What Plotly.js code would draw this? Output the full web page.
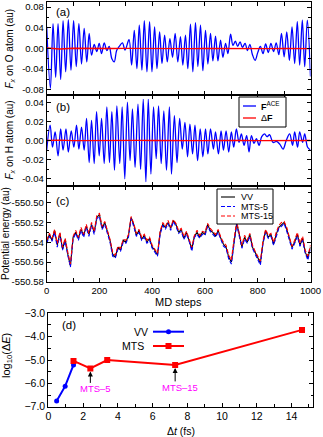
<!DOCTYPE html>
<html>
<head>
<meta charset="utf-8">
<script src="https://cdn.plot.ly/plotly-3.0.1.min.js"></script>
<style>
  html, body { margin: 0; padding: 0; background: #fff; }
  #plot { width: 323px; height: 437px; }
</style>
</head>
<body>
<div id="plot"></div>
<script>
// (a) F_x on O atom: extrema (MD step, value in au)
const aStep = [0,14,24,34,43,53,62,72,82,92,102,112,122,132,142,152,161,170,180,190,
  199,208,218,228,237,247,256,265,275,287,297,312,322,332,342,351,361,370,380,390,
  399,409,418,428,437,447,457,467,477,487,497,507,516,526,535,545,554,564,573,583,
  592,602,611,621,630,640,649,659,668,678,687,697,706,715,724,733,742,752,761,770,
  780,790,800,810,820,830,840,850,860,870,880,890,900,910,920,930,940,950,959,969,
  978,988,1000];
const aFx = [0.042,-0.077,0.048,-0.056,0.048,-0.060,0.054,-0.045,0.056,-0.042,
  0.054,-0.035,0.048,-0.030,0.039,-0.026,0.029,-0.013,0.008,-0.006,
  0.010,-0.010,0.011,-0.004,0.004,-0.020,-0.026,-0.004,0.004,0.011,
  -0.003,0.017,-0.032,0.035,-0.039,0.045,-0.042,0.054,-0.045,0.052,
  -0.045,0.042,-0.039,0.032,-0.029,0.026,-0.026,0.019,-0.017,0.029,
  -0.026,0.023,-0.032,0.026,-0.039,0.047,-0.045,0.050,-0.035,0.045,
  -0.043,0.035,-0.030,0.029,-0.024,0.024,-0.024,0.016,-0.017,0.010,
  -0.010,0.028,0.006,0.014,0.004,0.013,0.002,0.010,-0.004,0.008,
  -0.012,-0.023,-0.008,0.004,-0.010,0.009,-0.008,0.010,-0.006,0.011,
  -0.012,0.029,-0.016,0.032,-0.023,0.042,-0.029,0.052,-0.032,0.055,
  -0.035,0.055,-0.054];

// (b) F_x on H atom
const bStep = [0,13,22,32,43,53,62,73,82,93,103,113,122,132,142,151,161,170,180,189,
  199,208,218,228,238,247,257,266,277,286,296,306,316,325,335,346,356,366,376,385,
  395,405,415,424,434,444,454,465,473,484,494,504,514,524,534,543,553,562,572,582,
  592,602,611,621,632,640,651,661,670,680,690,700,709,719,729,738,748,758,767,776,
  786,795,805,815,826,835,845,858,871,884,896,908,921,932,940,951,959,970,978,989,
  1000];
const bFx = [-0.010,0.016,-0.007,0.009,-0.016,0.012,-0.010,0.012,-0.012,0.010,
  -0.007,0.016,-0.009,0.014,-0.010,0.023,-0.023,0.021,-0.024,0.030,
  -0.016,0.023,-0.024,0.035,-0.023,0.030,-0.031,0.036,-0.024,0.035,
  -0.040,0.040,-0.021,0.033,-0.028,0.038,-0.030,0.043,-0.043,0.043,
  -0.035,0.035,-0.019,0.036,-0.024,0.031,-0.031,0.035,-0.035,0.026,
  -0.023,0.023,-0.009,0.019,-0.017,0.017,-0.014,0.016,-0.021,0.012,
  -0.017,0.012,-0.014,0.012,-0.009,0.009,-0.014,0.010,-0.010,0.010,
  -0.012,0.009,-0.007,0.012,-0.002,0.007,-0.005,0.005,-0.012,0.005,
  -0.003,0.002,-0.005,0.004,0.007,0.004,0.006,-0.002,-0.001,-0.004,
  -0.009,0.000,0.007,-0.005,0.009,-0.007,0.009,-0.002,0.007,-0.007,
  -0.010];

// delta F (red, near zero)
const dfStep = [0,50,100,150,200,250,300,350,400,450,500,550,600,650,700,750,800,850,900,950,1000];
const aDF = [0.001,-0.001,0.0005,0,-0.0005,0,0.0003,0,-0.0003,0.0004,0,-0.0004,0.0003,0,-0.0003,0,0.0002,-0.0002,0.0003,0,-0.0004];
const bDF = [0,0.0003,-0.0002,0,0.0002,-0.0003,0,0.0002,0,-0.0002,0.0003,0,-0.0002,0,0.0002,0,-0.0002,0,0.0002,-0.0001,0];

// (c) potential energy (au)
const cStep = [0,10,20,30,40,50,60,70,80,90,100,110,120,130,140,150,160,170,180,190,
  200,210,220,230,240,250,260,270,280,290,300,310,320,330,340,350,360,370,380,390,
  400,410,420,430,440,450,460,470,480,490,500,510,520,530,540,550,560,570,580,590,
  600,610,620,630,640,650,660,670,680,690,700,710,720,730,740,750,760,770,780,790,
  800,810,820,830,840,850,860,870,880,890,900,910,920,930,940,950,960,970,980,990,1000];
const cVV = [-550.540,-550.532,-550.538,-550.528,-550.543,-550.531,-550.547,-550.537,-550.552,-550.564,
  -550.535,-550.530,-550.536,-550.527,-550.533,-550.524,-550.532,-550.522,-550.530,-550.515,
  -550.512,-550.526,-550.520,-550.530,-550.538,-550.552,-550.555,-550.545,-550.548,-550.538,
  -550.540,-550.533,-550.515,-550.522,-550.533,-550.528,-550.537,-550.533,-550.540,-550.536,
  -550.545,-550.548,-550.553,-550.530,-550.522,-550.525,-550.520,-550.526,-550.518,-550.522,
  -550.530,-550.527,-550.536,-550.530,-550.538,-550.547,-550.534,-550.530,-550.535,-550.530,
  -550.532,-550.522,-550.528,-550.530,-550.534,-550.528,-550.536,-550.542,-550.545,-550.555,
  -550.560,-550.538,-550.521,-550.532,-550.545,-550.535,-550.540,-550.532,-550.545,-550.550,
  -550.556,-550.561,-550.540,-550.528,-550.535,-550.532,-550.542,-550.532,-550.525,-550.522,
  -550.520,-550.527,-550.537,-550.545,-550.540,-550.532,-550.543,-550.536,-550.550,-550.556,
  -550.545];
const cMTS5 = [-550.541,-550.534,-550.539,-550.530,-550.545,-550.532,-550.548,-550.539,-550.553,-550.565,
  -550.537,-550.531,-550.538,-550.528,-550.535,-550.525,-550.534,-550.523,-550.532,-550.516,
  -550.514,-550.527,-550.522,-550.531,-550.540,-550.554,-550.556,-550.547,-550.549,-550.540,
  -550.541,-550.535,-550.516,-550.524,-550.534,-550.530,-550.538,-550.535,-550.541,-550.538,
  -550.546,-550.550,-550.554,-550.532,-550.523,-550.527,-550.521,-550.528,-550.519,-550.524,
  -550.531,-550.529,-550.537,-550.532,-550.539,-550.549,-550.535,-550.532,-550.536,-550.532,
  -550.533,-550.524,-550.529,-550.532,-550.535,-550.530,-550.537,-550.544,-550.546,-550.557,
  -550.562,-550.540,-550.522,-550.534,-550.546,-550.537,-550.541,-550.534,-550.546,-550.552,
  -550.557,-550.563,-550.541,-550.530,-550.536,-550.534,-550.543,-550.534,-550.526,-550.524,
  -550.521,-550.529,-550.538,-550.547,-550.541,-550.534,-550.544,-550.538,-550.551,-550.558,
  -550.546];
const cMTS15 = [-550.538,-550.531,-550.536,-550.527,-550.541,-550.530,-550.545,-550.536,-550.550,-550.562,
  -550.534,-550.528,-550.535,-550.525,-550.532,-550.522,-550.531,-550.520,-550.529,-550.513,
  -550.511,-550.524,-550.519,-550.528,-550.537,-550.550,-550.553,-550.544,-550.546,-550.537,
  -550.538,-550.532,-550.514,-550.521,-550.531,-550.527,-550.535,-550.532,-550.538,-550.535,
  -550.543,-550.547,-550.551,-550.529,-550.520,-550.524,-550.518,-550.525,-550.517,-550.521,
  -550.528,-550.526,-550.534,-550.529,-550.536,-550.545,-550.533,-550.528,-550.533,-550.529,
  -550.530,-550.521,-550.526,-550.529,-550.532,-550.527,-550.535,-550.540,-550.543,-550.553,
  -550.558,-550.537,-550.519,-550.531,-550.543,-550.533,-550.538,-550.531,-550.543,-550.549,
  -550.554,-550.559,-550.538,-550.527,-550.533,-550.531,-550.540,-550.530,-550.523,-550.520,
  -550.519,-550.525,-550.535,-550.544,-550.538,-550.530,-550.541,-550.534,-550.548,-550.554,
  -550.543];

// (d) log10(dE) vs time step (fs)
const vvDt = [0.48, 0.97, 1.45];
const vvLogE = [-6.76, -6.12, -5.21];
const mtsDt = [1.45, 2.42, 3.39, 7.3, 14.6];
const mtsLogE = [-5.04, -5.36, -5.0, -5.21, -3.71];

// tick labels
const aTickVals = [-0.08, -0.04, 0, 0.04, 0.08];
const aTickText = ["-0.08", "-0.04", "0.00", "0.04", "0.08"];
const bTickVals = [-0.04, -0.02, 0, 0.02, 0.04];
const bTickText = ["-0.04", "-0.02", "0.00", "0.02", "0.04"];
const cTickVals = [-550.58, -550.56, -550.54, -550.52, -550.50];
const cTickText = ["-550.58", "-550.56", "-550.54", "-550.52", "-550.50"];

const W = 323, H = 437;
const px = v => v / W;
const py = v => 1 - v / H;
const FONT = "Liberation Sans, Arial, sans-serif";
const BLUE = "#0000ff", RED = "#ff0000", MAG = "#ff00ff";

function frame(extra) {
  return Object.assign({
    showline: true, mirror: "ticks", linecolor: "#000", linewidth: 1,
    ticks: "inside", ticklen: 4, tickwidth: 1, tickcolor: "#000",
    showgrid: false, zeroline: false, fixedrange: true,
    tickfont: { family: FONT, size: 9.5, color: "#000" }
  }, extra);
}

const mdX = (anchor, labels) => frame({
  domain: [px(46.7), px(310.5)], range: [0, 1000], anchor,
  tickmode: "linear", tick0: 0, dtick: 200, showticklabels: labels,
  minor: { tickmode: "linear", tick0: 0, dtick: 100, ticks: "inside", ticklen: 4, tickcolor: "#000" }
});

const traces = [
  { type: "scatter", mode: "lines", x: aStep, y: aFx, xaxis: "x", yaxis: "y",
    line: { color: BLUE, width: 1.3, shape: "spline", smoothing: 1 } },
  { type: "scatter", mode: "lines", x: dfStep, y: aDF, xaxis: "x", yaxis: "y",
    line: { color: RED, width: 1.3 } },
  { type: "scatter", mode: "lines", x: bStep, y: bFx, xaxis: "x2", yaxis: "y2",
    line: { color: BLUE, width: 1.3, shape: "spline", smoothing: 1 } },
  { type: "scatter", mode: "lines", x: dfStep, y: bDF, xaxis: "x2", yaxis: "y2",
    line: { color: RED, width: 1.3 } },
  { type: "scatter", mode: "lines", x: cStep, y: cVV, xaxis: "x3", yaxis: "y3",
    line: { color: "#000", width: 1.1 } },
  { type: "scatter", mode: "lines", x: cStep, y: cMTS5, xaxis: "x3", yaxis: "y3",
    line: { color: BLUE, width: 1.1, dash: "4px,2px" } },
  { type: "scatter", mode: "lines", x: cStep, y: cMTS15, xaxis: "x3", yaxis: "y3",
    line: { color: RED, width: 1.1, dash: "4px,2px" } },
  { type: "scatter", mode: "lines+markers", x: vvDt, y: vvLogE, xaxis: "x4", yaxis: "y4",
    line: { color: BLUE, width: 2 }, marker: { color: BLUE, size: 5, symbol: "circle" } },
  { type: "scatter", mode: "lines+markers", x: mtsDt, y: mtsLogE, xaxis: "x4", yaxis: "y4",
    line: { color: RED, width: 2 }, marker: { color: RED, size: 6, symbol: "square" } }
];

function note(x, y, text, size, extra) {
  return Object.assign({ xref: "paper", yref: "paper", x: px(x), y: py(y), text,
    showarrow: false, xanchor: "center", yanchor: "middle",
    font: { family: FONT, size, color: "#000" } }, extra || {});
}

const annotations = [
  note(9, 48.5, "<i>F</i><sub><i>x</i></sub> on O atom (au)", 10, { textangle: -90 }),
  note(9, 140.5, "<i>F</i><sub><i>x</i></sub> on H atom (au)", 10, { textangle: -90 }),
  note(5, 234, "Potential energy (au)", 10, { textangle: -90 }),
  note(7, 356, "log<sub>10</sub>(Δ<i>E</i>)", 11, { textangle: -90 }),
  note(178.6, 301.5, "MD steps", 11),
  note(181, 431, "Δ<i>t</i> (fs)", 10.5),
  note(63, 12, "(a)", 11.5),
  note(63, 107, "(b)", 11.5),
  note(63, 201, "(c)", 11.5),
  note(69, 325, "(d)", 11.5),
  // legend (b)
  note(259, 106, "<b>F</b><sup>ACE</sup>", 9, { xanchor: "left" }),
  note(259, 118, "Δ<b>F</b>", 9, { xanchor: "left" }),
  // legend (c)
  note(239, 197, "VV", 9, { xanchor: "left" }),
  note(239, 206.5, "MTS-5", 9, { xanchor: "left" }),
  note(239, 216, "MTS-15", 9, { xanchor: "left" }),
  // legend (d)
  note(150, 331.7, "VV", 10.5, { xanchor: "right" }),
  note(146, 346, "MTS", 10.5, { xanchor: "right" }),
  // arrows (d)
  { xref: "x4", yref: "y4", x: mtsDt[1], y: mtsLogE[1], text: "", showarrow: true,
    ax: 0, ay: 16, arrowhead: 2, arrowsize: 1, arrowwidth: 1, arrowcolor: "#000", standoff: 3 },
  { xref: "x4", yref: "y4", x: mtsDt[3], y: mtsLogE[3], text: "", showarrow: true,
    ax: 0, ay: 18, arrowhead: 2, arrowsize: 1, arrowwidth: 1, arrowcolor: "#000", standoff: 3 },
  { xref: "x4", yref: "y4", x: mtsDt[1], y: mtsLogE[1], text: "MTS–5", showarrow: false,
    xshift: 5, yshift: -20, font: { family: FONT, size: 9.5, color: MAG } },
  { xref: "x4", yref: "y4", x: mtsDt[3], y: mtsLogE[3], text: "MTS–15", showarrow: false,
    xshift: 5, yshift: -23, font: { family: FONT, size: 9.5, color: MAG } }
];

function seg(x0, x1, y, color, width, dash) {
  return { type: "line", xref: "paper", yref: "paper", x0: px(x0), x1: px(x1), y0: py(y), y1: py(y),
    line: { color, width, dash: dash || "solid" } };
}
function box(x0, x1, y0, y1) {
  return { type: "rect", xref: "paper", yref: "paper", x0: px(x0), x1: px(x1), y0: py(y1), y1: py(y0),
    line: { color: "#000", width: 1 }, fillcolor: "#fff", layer: "above" };
}
function dot(x, y, kind, r, color) {
  return { type: kind, xref: "paper", yref: "paper", xsizemode: "pixel", ysizemode: "pixel",
    xanchor: px(x), yanchor: py(y), x0: -r, x1: r, y0: -r, y1: r,
    fillcolor: color, line: { width: 0 } };
}

const shapes = [
  box(239, 286, 97, 127),
  seg(243, 256, 106, BLUE, 1.3),
  seg(243, 256, 118, RED, 1.3),
  box(217, 273, 189, 224),
  seg(221, 235, 197, "#000", 1.1),
  seg(221, 235, 206.5, BLUE, 1.1, "4px,2px"),
  seg(221, 235, 216, RED, 1.1, "4px,2px"),
  seg(153, 184, 331.7, BLUE, 2),
  dot(168.5, 331.7, "circle", 2.5, BLUE),
  seg(153, 184, 346, RED, 2),
  dot(168.5, 346, "rect", 3, RED)
];

const layout = {
  width: W, height: H,
  margin: { l: 0, r: 0, t: 0, b: 0 },
  paper_bgcolor: "#fff", plot_bgcolor: "#fff",
  showlegend: false,
  font: { family: FONT, color: "#000" },
  xaxis: mdX("y", false),
  yaxis: frame({ domain: [py(95), py(2)], range: [-0.09, 0.09], anchor: "x",
    tickmode: "array", tickvals: aTickVals, ticktext: aTickText,
    minor: { tickmode: "linear", tick0: 0, dtick: 0.02, ticks: "inside", ticklen: 2.5, tickcolor: "#000" } }),
  xaxis2: mdX("y2", false),
  yaxis2: frame({ domain: [py(186), py(95)], range: [-0.0475, 0.0475], anchor: "x2",
    tickmode: "array", tickvals: bTickVals, ticktext: bTickText,
    minor: { tickmode: "linear", tick0: 0, dtick: 0.01, ticks: "inside", ticklen: 2.5, tickcolor: "#000" } }),
  xaxis3: mdX("y3", true),
  yaxis3: frame({ domain: [py(282), py(186)], range: [-550.5801, -550.4832], anchor: "x3",
    tickmode: "array", tickvals: cTickVals, ticktext: cTickText,
    minor: { tickmode: "linear", tick0: -550.5, dtick: 0.01, ticks: "inside", ticklen: 2.5, tickcolor: "#000" } }),
  xaxis4: frame({ domain: [px(48.3), px(313.3)], range: [0, 15.25], anchor: "y4",
    tickmode: "linear", tick0: 0, dtick: 2, tickfont: { family: FONT, size: 10.5, color: "#000" },
    minor: { tickmode: "linear", tick0: 0, dtick: 1, ticks: "inside", ticklen: 2.5, tickcolor: "#000" } }),
  yaxis4: frame({ domain: [py(406.7), py(313.3)], range: [-7, -3], anchor: "x4",
    tickmode: "linear", tick0: -7, dtick: 1, tickformat: ".1f",
    tickfont: { family: FONT, size: 10.5, color: "#000" },
    minor: { tickmode: "linear", tick0: -7, dtick: 0.5, ticks: "inside", ticklen: 2.5, tickcolor: "#000" } }),
  annotations,
  shapes
};

Plotly.newPlot("plot", traces, layout, { staticPlot: true, displayModeBar: false });
</script>
</body>
</html>
